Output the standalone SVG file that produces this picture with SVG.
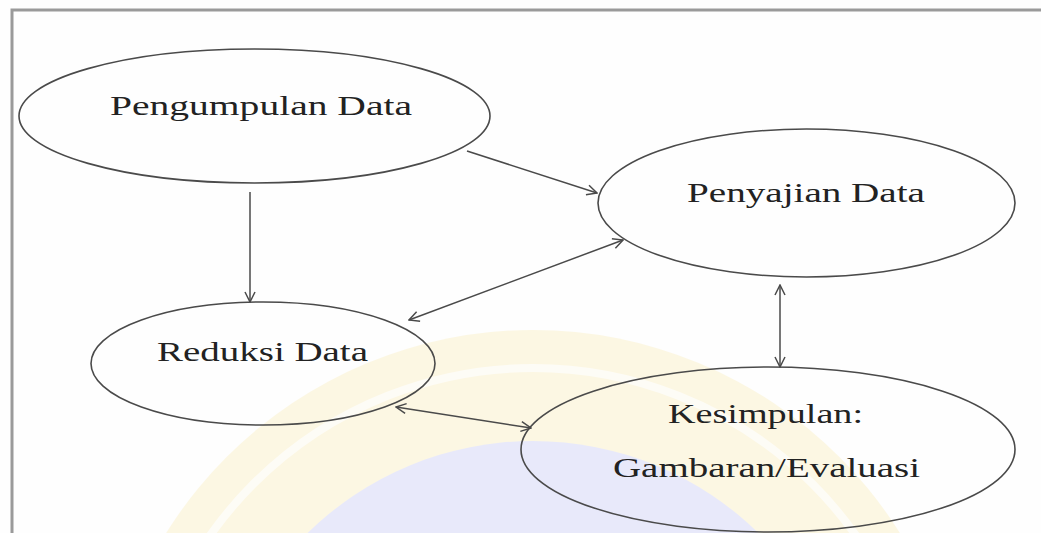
<svg xmlns="http://www.w3.org/2000/svg" width="1041" height="533" viewBox="0 0 1041 533">
  <style>
    .node ellipse { fill: none; stroke: #4a4a4a; stroke-width: 1.6; }
    .node text { font-family: "Liberation Serif", "Times New Roman", serif; font-size: 28px; fill: #222; text-anchor: middle; }
    .conn line { stroke: #4a4a4a; stroke-width: 1.5; fill: none; }
    .frame { fill: none; stroke: #9a9a9a; stroke-width: 3; }
  </style>
  <defs>
    <marker id="arr" viewBox="0 0 12 12" refX="11" refY="6" markerWidth="12" markerHeight="12" markerUnits="userSpaceOnUse" orient="auto-start-reverse">
      <path d="M1,1 L11,6 L1,11" fill="none" stroke="#4a4a4a" stroke-width="1.5"/>
    </marker>
    <clipPath id="clipbg"><rect x="13" y="11" width="1028" height="522"/></clipPath>
  </defs>
  <rect width="1041" height="533" fill="#fefefe"/>
  <g id="watermark" clip-path="url(#clipbg)" opacity="0.3">
    <circle cx="533" cy="763" r="433" fill="#f9e9a8"/>
    <circle cx="533" cy="763" r="395" fill="none" stroke="#ffffff" stroke-width="8" opacity="0.7"/>
    <circle cx="533" cy="763" r="322" fill="#b8bcf2"/>
  </g>
  <path class="frame" d="M12,533 V10 H1041"/>
  <g id="connectors" class="conn">
    <line x1="250" y1="192" x2="250" y2="302" marker-end="url(#arr)"/>
    <line x1="467" y1="151" x2="597" y2="193" marker-end="url(#arr)"/>
    <line x1="409" y1="320" x2="623" y2="240" marker-start="url(#arr)" marker-end="url(#arr)"/>
    <line x1="780" y1="285" x2="780" y2="367" marker-start="url(#arr)" marker-end="url(#arr)"/>
    <line x1="396" y1="407" x2="531" y2="428" marker-start="url(#arr)" marker-end="url(#arr)"/>
  </g>
  <g id="node-pengumpulan" class="node">
    <ellipse cx="254.5" cy="116" rx="235.5" ry="67"/>
    <text x="261" y="115" textLength="302" lengthAdjust="spacingAndGlyphs">Pengumpulan Data</text>
  </g>
  <g id="node-penyajian" class="node">
    <ellipse cx="806.5" cy="203" rx="208.5" ry="74"/>
    <text x="806" y="202" textLength="238" lengthAdjust="spacingAndGlyphs">Penyajian Data</text>
  </g>
  <g id="node-reduksi" class="node">
    <ellipse cx="263" cy="363.5" rx="172" ry="61.5"/>
    <text x="262.5" y="361" textLength="211" lengthAdjust="spacingAndGlyphs">Reduksi Data</text>
  </g>
  <g id="node-kesimpulan" class="node">
    <ellipse cx="768" cy="449.5" rx="247" ry="82.5"/>
    <text x="765.5" y="423" textLength="195" lengthAdjust="spacingAndGlyphs">Kesimpulan:</text>
    <text x="766.5" y="477" textLength="307" lengthAdjust="spacingAndGlyphs">Gambaran/Evaluasi</text>
  </g>
</svg>
